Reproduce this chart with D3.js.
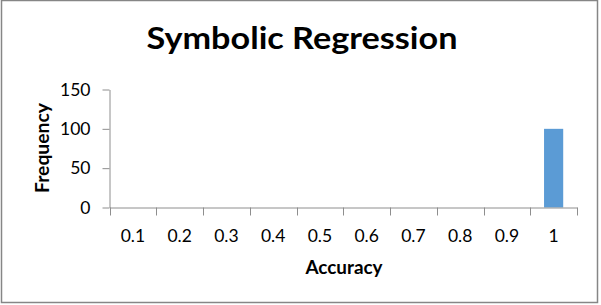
<!DOCTYPE html>
<html>
<head>
<meta charset="utf-8">
<script src="https://cdn.jsdelivr.net/npm/d3@7"></script>
<style>
  body { margin: 0; background: #fff; }
  svg { display: block; font-family: Lato, 'Open Sans', sans-serif; }
</style>
</head>
<body>
<div id="chart"></div>
<script>
var categories = ['0.1', '0.2', '0.3', '0.4', '0.5', '0.6', '0.7', '0.8', '0.9', '1']
var frequency = [0, 0, 0, 0, 0, 0, 0, 0, 0, 100]
var yTicks = [0, 50, 100, 150]

var width = 601, height = 305
var svg = d3.select('#chart')
  .append('svg')
    .attr('width', width)
    .attr('height', height)

// chart frame
svg.append('rect')
  .attr('x', 1.5)
  .attr('y', 0.5)
  .attr('width', 596)
  .attr('height', 302)
  .attr('fill', '#fff')
  .attr('stroke', '#868686')
  .attr('stroke-width', 1.5)

var x = d3.scaleBand()
  .domain(categories)
  .range([109.5, 577])
  .paddingInner(0.59)
  .paddingOuter(0.295)

var y = d3.scaleLinear()
  .domain([0, 150])
  .range([207.5, 89.5])

var axisColor = '#8e8e8e'

// bars
svg.append('g')
  .selectAll('rect.bar')
  .data(frequency)
  .join('rect')
    .attr('class', 'bar')
    .attr('x', (d, i) => x(categories[i]))
    .attr('y', d => y(d))
    .attr('width', x.bandwidth())
    .attr('height', d => y(0) - y(d))
    .attr('fill', '#5b9bd5')

// y axis
var yAxis = svg.append('g')
  .attr('transform', 'translate(109.5,0)')
  .call(d3.axisLeft(y).tickValues(yTicks).tickSize(7).tickPadding(12).tickSizeOuter(0))
yAxis.selectAll('line, path').attr('stroke', axisColor)
yAxis.selectAll('text')
  .attr('fill', '#000')
  .attr('font-size', 17.5)
  .attr('font-family', 'Lato, sans-serif')

// x axis labels
var xAxis = svg.append('g')
  .attr('transform', 'translate(0,207.5)')
  .call(d3.axisBottom(x).tickSize(0).tickPadding(22))
xAxis.select('path.domain').attr('stroke', axisColor)
xAxis.selectAll('text')
  .attr('fill', '#000')
  .attr('font-size', 17.5)
  .attr('font-family', 'Lato, sans-serif')

// tick marks between categories
var step = x.step()
svg.append('g')
  .selectAll('line.sep')
  .data(d3.range(categories.length + 1))
  .join('line')
    .attr('class', 'sep')
    .attr('x1', i => Math.round(x.range()[0] + i * step) + 0.5)
    .attr('x2', i => Math.round(x.range()[0] + i * step) + 0.5)
    .attr('y1', 207.5)
    .attr('y2', 215.5)
    .attr('stroke', axisColor)

// title
svg.append('text')
  .attr('x', 302)
  .attr('y', 49)
  .attr('text-anchor', 'middle')
  .attr('font-size', 29.5)
  .attr('font-weight', 'bold')
  .attr('textLength', 311)
  .attr('lengthAdjust', 'spacingAndGlyphs')
  .text('Symbolic Regression')

// axis titles
svg.append('text')
  .attr('x', 344)
  .attr('y', 273.5)
  .attr('text-anchor', 'middle')
  .attr('font-size', 18)
  .attr('font-weight', 'bold')
  .attr('textLength', 77)
  .attr('lengthAdjust', 'spacingAndGlyphs')
  .text('Accuracy')

svg.append('text')
  .attr('transform', 'translate(48.5,148) rotate(-90)')
  .attr('text-anchor', 'middle')
  .attr('font-size', 18)
  .attr('font-weight', 'bold')
  .attr('textLength', 90)
  .attr('lengthAdjust', 'spacingAndGlyphs')
  .text('Frequency')
</script>
</body>
</html>
